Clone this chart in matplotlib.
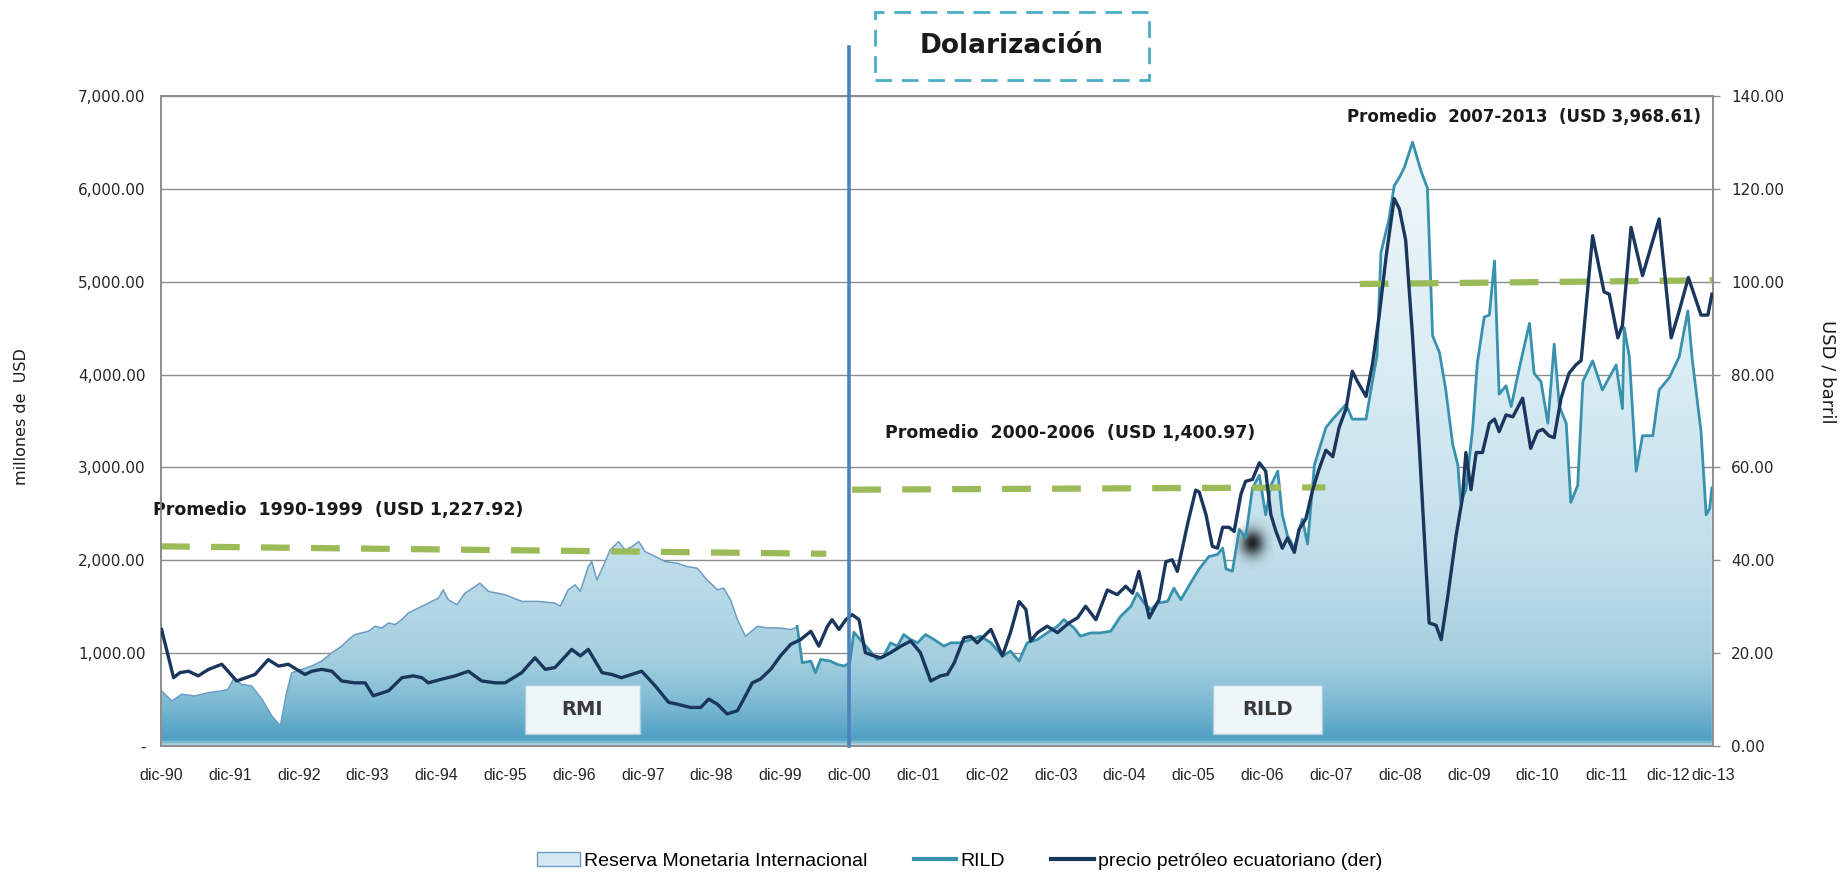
import numpy as np
import matplotlib
matplotlib.use("Agg")
import matplotlib.pyplot as plt
from matplotlib.colors import LinearSegmentedColormap
from matplotlib.patches import FancyBboxPatch, Patch
from matplotlib.lines import Line2D

###############################################################################
# Datos. Meses contados desde dic-90 (0 = dic-90, 120 = dic-00)

# Reserva Monetaria Internacional (millones de USD), hasta la dolarizacion
rmi_mes = [0.1, 1.9, 3.6, 5.9, 8.3, 10.6, 11.7, 12.6, 14.1, 15.8, 17.6, 19.3, 20.8,
           21.9, 22.8, 24.5, 26.3, 28.0, 29.8, 31.5, 32.7, 33.8, 36.2, 37.3, 38.5,
           39.7, 40.8, 42.0, 43.1, 44.3, 45.5, 47.2, 48.4, 49.2, 50.1, 51.6, 53.0,
           54.8, 55.6, 57.1, 60.0, 62.9, 65.8, 68.7, 69.6, 71.0, 72.2, 73.1, 74.5,
           75.1, 76.0, 77.2, 78.3, 79.8, 80.9, 82.1, 83.3, 84.4, 86.2, 87.9, 90.0,
           91.7, 93.5, 95.2, 97.0, 98.1, 99.3, 100.5, 101.9, 104.0, 105.7, 108.0,
           109.8, 110.6]
rmi_val = [593, 486, 557, 539, 575, 593, 611, 718, 664, 646, 504, 325, 218,
           575, 789, 825, 861, 914, 1004, 1075, 1146, 1200, 1236, 1289, 1271,
           1325, 1307, 1361, 1432, 1468, 1504, 1557, 1593, 1682, 1575, 1521, 1646,
           1718, 1754, 1664, 1629, 1557, 1557, 1539, 1504, 1682, 1736, 1664, 1932,
           1986, 1789, 1950, 2111, 2200, 2111, 2146, 2200, 2093, 2039, 1986, 1968,
           1932, 1914, 1789, 1682, 1700, 1575, 1361, 1182, 1289, 1271, 1271,
           1254, 1271]

# RILD (millones de USD)
rild_mes = [110.9, 111.8, 113.3, 114.1, 115.0, 116.7, 117.9, 119.1, 120.1, 120.8,
            124.9, 126.0, 127.2, 128.4, 129.5, 130.7, 131.9, 133.3, 134.8, 136.5,
            137.7, 139.4, 141.2, 142.9, 144.7, 146.7, 148.1, 149.6, 151.0, 152.8,
            154.5, 156.3, 157.4, 159.2, 160.3, 162.1, 163.8, 165.6, 167.3, 169.1,
            170.2, 171.4, 172.6, 173.7, 175.5, 176.6, 177.8, 179.5, 181.0, 182.7,
            184.2, 185.1, 185.7, 186.8, 188.0, 189.1, 190.3, 191.5, 192.6, 193.5,
            194.7, 195.5, 196.4, 197.6, 199.0, 199.9, 201.1, 203.1, 204.3, 206.6,
            207.7, 210.1, 211.2, 212.0, 212.7, 214.1, 215.0, 215.9, 216.8, 218.2,
            219.7, 220.8, 221.7, 222.9, 224.0, 225.2, 226.1, 226.6, 227.5, 228.7,
            229.5, 230.7, 231.6, 232.5, 233.3, 234.5, 235.4, 237.1, 238.6, 239.4,
            240.6, 241.8, 242.9, 243.8, 245.0, 245.8, 247.0, 247.9, 249.6, 251.3,
            253.7, 254.8, 255.1, 256.0, 257.2, 258.3, 260.1, 261.2, 263.0, 264.7,
            266.2, 267.0, 268.5, 269.4, 270.0, 270.4]
rild_val = [1289, 896, 914, 789, 932, 914, 879, 861, 896, 1225,
            932, 968, 1111, 1075, 1200, 1146, 1111, 1200, 1146, 1075,
            1111, 1111, 1146, 1182, 1111, 968, 1021, 914, 1111, 1146,
            1218, 1289, 1361, 1271, 1182, 1218, 1218, 1236, 1396, 1504,
            1646, 1539, 1468, 1539, 1557, 1700, 1575, 1754, 1906, 2040,
            2063, 2130, 1906, 1883, 2332, 2242, 2780, 2915, 2489, 2803,
            2960, 2489, 2265, 2130, 2444, 2175, 3027, 3430, 3520, 3677,
            3520, 3520, 3924, 4200, 5314, 5673, 6031, 6121, 6233, 6502,
            6188, 6009, 4417, 4238, 3834, 3251, 3027, 2623, 2758, 3430,
            4126, 4619, 4641, 5224, 3789, 3879, 3655, 4148, 4552, 4013,
            3924, 3475, 4327, 3655, 3475, 2623, 2803, 3924, 4148, 3834,
            4103, 3632, 4507, 4193, 2960, 3341, 3341, 3834, 3969, 4193,
            4686, 4148, 3386, 2489, 2556, 2780]

# precio petroleo ecuatoriano (USD / barril, eje derecho)
precio_mes = [0.1, 2.2, 3.3, 4.8, 6.5, 8.3, 10.6, 13.2, 16.4, 18.7, 20.5, 22.2,
              25.1, 26.3, 28.0, 29.8, 31.5, 33.8, 35.6, 37.0, 39.7, 42.0, 44.0,
              45.5, 46.6, 49.0, 51.3, 53.6, 55.9, 58.3, 60.0, 62.9, 65.2, 67.0,
              68.7, 71.6, 73.1, 74.5, 76.9, 78.6, 80.3, 83.8, 86.2, 88.5, 90.0,
              92.3, 94.1, 95.5, 97.0, 98.7, 100.5, 101.6, 103.1, 104.5, 106.3,
              108.0, 109.8, 111.5, 113.3, 114.7, 116.2, 117.0, 118.2, 119.4, 120.5,
              121.7, 122.8, 124.3, 125.5, 127.2, 129.0, 130.7, 132.4, 134.2, 135.9,
              137.1, 138.3, 140.0, 141.2, 142.3, 144.7, 146.7, 148.1, 149.6, 150.8,
              151.6, 152.8, 154.5, 156.3, 158.3, 159.8, 161.2, 163.0, 165.0, 166.7,
              168.2, 169.4, 170.5, 172.3, 174.0, 175.2, 176.3, 177.2, 179.0, 180.4,
              181.0, 182.2, 183.3, 184.2, 185.1, 186.2, 187.1, 188.3, 189.1, 190.3,
              191.5, 192.6, 193.5, 194.4, 195.5, 196.4, 197.6, 198.4, 199.6, 200.8,
              201.9, 203.1, 204.3, 205.4, 206.6, 207.7, 208.6, 210.1, 211.2, 212.4,
              213.6, 215.0, 215.9, 217.0, 218.2, 219.4, 221.1, 222.3, 223.2, 224.3,
              225.8, 226.9, 227.5, 228.4, 229.3, 230.4, 231.6, 232.5, 233.3, 234.5,
              235.7, 237.4, 238.8, 240.0, 240.9, 242.0, 242.9, 244.1, 245.5, 246.7,
              247.6, 249.6, 251.6, 252.5, 254.0, 254.8, 256.3, 258.3, 261.2, 263.3,
              264.7, 266.3, 268.5, 269.7, 270.4]
precio_val = [25.1, 14.7, 15.8, 16.1, 15.1, 16.5, 17.6, 14.0, 15.4, 18.6, 17.2, 17.6,
              15.4, 16.1, 16.5, 16.1, 14.0, 13.6, 13.6, 10.8, 11.9, 14.7, 15.1,
              14.7, 13.6, 14.4, 15.1, 16.1, 14.0, 13.6, 13.6, 15.8, 19.0, 16.5,
              16.9, 20.8, 19.4, 20.8, 15.8, 15.4, 14.7, 16.1, 12.9, 9.4, 9.0,
              8.3, 8.3, 10.1, 9.0, 6.9, 7.6, 10.1, 13.6, 14.4, 16.5,
              19.4, 21.9, 22.9, 24.7, 21.5, 25.8, 27.2, 25.1, 27.2, 28.3,
              27.2, 20.1, 19.4, 19.0, 20.1, 21.5, 22.6, 20.1, 14.0, 15.1,
              15.4, 17.9, 23.3, 23.6, 22.2, 25.1, 19.4, 24.4, 31.1, 29.4,
              22.6, 24.4, 25.8, 24.4, 26.5, 27.6, 30.1, 27.2, 33.6, 32.6,
              34.4, 32.9, 37.6, 27.6, 31.5, 39.7, 40.1, 37.6, 47.9, 55.1,
              54.7, 49.8, 43.0, 42.6, 47.1, 47.1, 46.2, 54.3, 57.0, 57.4,
              61.0, 59.2, 49.8, 46.2, 42.6, 44.8, 41.7, 46.6, 48.9, 55.2,
              59.6, 63.7, 62.3, 68.6, 72.6, 80.7, 78.5, 75.3, 82.1, 92.8,
              105.4, 117.9, 115.7, 109.0, 88.3, 64.1, 26.5, 26.0, 22.9, 31.8,
              45.3, 53.4, 63.2, 55.2, 63.2, 63.2, 69.5, 70.4, 67.7, 71.3,
              70.9, 74.9, 64.1, 67.7, 68.2, 66.8, 66.4, 74.9, 80.3, 82.1,
              83.0, 109.9, 97.8, 97.3, 87.9, 90.6, 111.7, 101.3, 113.5, 87.9,
              93.7, 100.9, 92.8, 92.8, 97.3]

# Promedios por periodo (tramos dibujados como en el original)
prom_texto = ["Promedio  1990-1999  (USD 1,227.92)",
              "Promedio  2000-2006  (USD 1,400.97)",
              "Promedio  2007-2013  (USD 3,968.61)"]
prom_desde = [0, 120.5, 209.0]
prom_hasta = [116.0, 203.0, 270.4]
prom_nivel_ini = [2150, 2760, 4975]
prom_nivel_fin = [2070, 2785, 5015]
# posicion de cada texto (mes, millones USD)
prom_texto_mes = [-1.4, 126.3, 206.8]
prom_texto_val = [2540, 3375, 6770]

etiquetas_x = ["dic-90", "dic-91", "dic-92", "dic-93", "dic-94", "dic-95", "dic-96",
               "dic-97", "dic-98", "dic-99", "dic-00", "dic-01", "dic-02", "dic-03",
               "dic-04", "dic-05", "dic-06", "dic-07", "dic-08", "dic-09", "dic-10",
               "dic-11", "dic-12", "dic-13"]
mes_dolarizacion = 120
mes_final = 270.6

###############################################################################
# Figura

gris = '#8c8c8c'
fig = plt.figure(figsize=(18.42, 8.73), dpi=100)
ax = fig.add_axes([0.0874, 0.1455, 0.8426, 0.7446])
ax2 = ax.twinx()

# Area de reservas: RMI hasta la dolarizacion y luego RILD
area_mes = np.array(rmi_mes + rild_mes[1:])
area_val = np.array(rmi_val + rild_val[1:])
poly = ax.fill_between(area_mes, area_val, 0, facecolor='none', edgecolor='none')

stops = [(0, '#a9d2e2'), (60, '#4f9fc2'), (400, '#79b8d1'), (900, '#a4cfdf'),
         (2000, '#c0deea'), (4000, '#d9ecf3'), (7000, '#f4f9fb')]
cmap = LinearSegmentedColormap.from_list('relleno', [(v / 7000, c) for v, c in stops])
grad = np.linspace(0, 1, 500).reshape(-1, 1)
im = ax.imshow(grad, cmap=cmap, extent=[area_mes[0], area_mes[-1], 0, 7000],
               origin='lower', aspect='auto', zorder=1)
im.set_clip_path(poly.get_paths()[0], transform=ax.transData)

# sombra oscura que aparece en el original
gy, gx = np.mgrid[-1:1:80j, -1:1:80j]
mancha = np.zeros((80, 80, 4))
mancha[..., 3] = 0.85 * np.exp(-(gx ** 2 + (gy * 1.2) ** 2) * 3.2)
ax.imshow(mancha, extent=[186.8, 193.8, 1880, 2480], aspect='auto', zorder=2)

ax.plot(rmi_mes, rmi_val, color='#6d9cc6', lw=1.1, zorder=3)
ax.plot(rild_mes, rild_val, color='#3892ae', lw=2.0, zorder=4)

ax2.plot(precio_mes, precio_val, color='#1b365d', lw=2.4, zorder=5)

for i in range(3):
    ax.plot([prom_desde[i], prom_hasta[i]], [prom_nivel_ini[i], prom_nivel_fin[i]],
            color='#9bbb59', lw=4.5, dashes=(4.6, 3.4), solid_capstyle='butt', zorder=5)
    ax.text(prom_texto_mes[i], prom_texto_val[i], prom_texto[i],
            fontsize=12.5 if i < 2 else 12, fontweight='bold',
            color='#1a1a1a', ha='left', va='center', zorder=6)

# dolarizacion
ax2.axvline(mes_dolarizacion, ymin=0, ymax=1.0755, color='#4f81bd', lw=2.6,
            clip_on=False, zorder=8)
fig.add_artist(FancyBboxPatch((0.475, 0.9084), 0.1488, 0.0779, boxstyle='square,pad=0',
                              transform=fig.transFigure, fc='white', ec='#4bacc6',
                              lw=2, ls=(0, (6, 3.5))))
fig.text(0.5494, 0.947, 'Dolarización', fontsize=19, fontweight='bold',
         color='#1a1a1a', ha='center', va='center')

# etiquetas RMI / RILD
for x0, w, txt in [(0.2345, 0.0741, 'RMI'), (0.6778, 0.0702, 'RILD')]:
    ax.add_patch(FancyBboxPatch((x0, 0.0185), w, 0.0754, boxstyle='square,pad=0',
                                transform=ax.transAxes, fc='#edf6f9', ec='#a9cddb',
                                lw=1, zorder=6))
    ax.text(x0 + w / 2, 0.056, txt, transform=ax.transAxes, fontsize=14,
            fontweight='bold', color='#3a3a3a', ha='center', va='center', zorder=7)

###############################################################################
# Ejes

ax.set_xlim(0, mes_final)
ax.set_ylim(0, 7000)
ax2.set_ylim(0, 140)

yt = list(range(0, 7001, 1000))
ax.set_yticks(yt)
ax.set_yticklabels(['-' if v == 0 else f'{v:,.2f}' for v in yt])
yt2 = list(range(0, 141, 20))
ax2.set_yticks(yt2)
ax2.set_yticklabels([f'{v:.2f}' for v in yt2])

# dic-12 va un poco antes, como en el original, para no chocar con dic-13
xt = list(range(0, 12 * (len(etiquetas_x) - 2), 12)) + [262.8, mes_final]
ax.set_xticks(xt)
ax.set_xticklabels(etiquetas_x, fontsize=11.5, family=['Liberation Sans', 'DejaVu Sans'],
                   color='#262626')

ax.grid(axis='y', color=gris, lw=1.0, zorder=0.5)
ax.set_axisbelow(True)
ax.tick_params(axis='y', length=0, pad=11, labelsize=11, labelcolor='#262626')
ax.tick_params(axis='x', length=0, pad=16)
ax2.tick_params(axis='y', length=5, width=1, color=gris, pad=8, labelsize=11,
                labelcolor='#262626')
for a in (ax, ax2):
    for s in a.spines.values():
        s.set_color(gris)
        s.set_linewidth(1.2)

fig.text(21 / 1842, 1 - 417 / 873, 'millones de  USD', rotation=90, fontsize=11.5,
         ha='center', va='center', color='#1a1a1a')
fig.text(1827 / 1842, 1 - 372 / 873, 'USD / barril', rotation=270, fontsize=13,
         ha='center', va='center', color='#1a1a1a')

handles = [Patch(facecolor='#d3e8f0', edgecolor='#6d9cc6', lw=1),
           Line2D([], [], color='#3892ae', lw=3),
           Line2D([], [], color='#1b365d', lw=3)]
labels = ['Reserva Monetaria Internacional', 'RILD', 'precio petróleo ecuatoriano (der)']
fig.legend(handles, labels, loc='center', bbox_to_anchor=(0.521, 0.0137), ncol=3,
           frameon=False, handlelength=2.2, handletextpad=0.2, columnspacing=2.4,
           prop={'family': ['Liberation Sans', 'DejaVu Sans'], 'size': 14})

plt.savefig('out.png', dpi=100)
